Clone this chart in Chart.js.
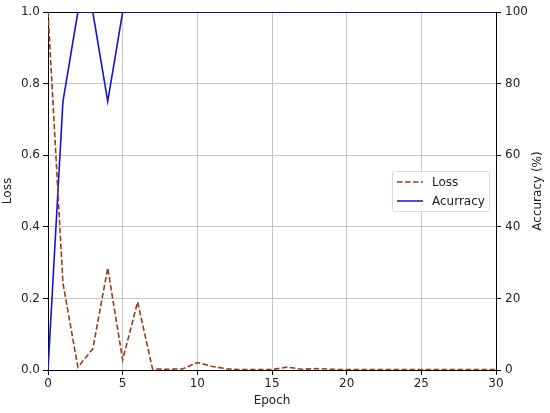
<!DOCTYPE html>
<html>
<head>
<meta charset="utf-8">
<script src="https://cdn.jsdelivr.net/npm/chart.js@4.4.1/dist/chart.umd.min.js"></script>
<style>
  body { margin: 0; background: #fff; }
  #wrap { position: relative; width: 550px; height: 413px; }
  #legend {
    position: absolute; left: 392px; top: 171px; width: 96px; height: 39px;
    border: 1px solid #d9d9d9; border-radius: 3px; background: rgba(255,255,255,0.85);
    font: 12px "DejaVu Sans", sans-serif; color: #222;
  }
  .row { position: absolute; left: 0; height: 18px; line-height: 18px; }
  .row svg { position: absolute; left: 4px; top: 4px; }
  .row span { position: absolute; left: 39px; white-space: nowrap; }
</style>
</head>
<body>
<div id="wrap">
  <canvas id="chart" width="550" height="413"></canvas>
  <div id="legend">
    <div class="row" style="top:1px">
      <svg width="28" height="10"><line x1="0" y1="5" x2="26" y2="5" stroke="#993d14" stroke-width="1.5" stroke-dasharray="5.5,2.5"/></svg>
      <span>Loss</span>
    </div>
    <div class="row" style="top:20px">
      <svg width="28" height="10"><line x1="0" y1="5" x2="26" y2="5" stroke="#1515d0" stroke-width="1.5"/></svg>
      <span>Acurracy</span>
    </div>
  </div>
</div>
<script>
// epochs 0..30
const epochs = [0,1,2,3,4,5,6,7,8,9,10,11,12,13,14,15,16,17,18,19,20,21,22,23,24,25,26,27,28,29,30];
const lossValues = [1.0,0.243,0.008,0.059,0.285,0.028,0.19,0.003,0.002,0.003,0.021,0.01,0.003,0.001,0.001,0.001,0.008,0.002,0.004,0.002,0.001,0.001,0.001,0.001,0.001,0.001,0.001,0.001,0.001,0.001,0.001];
const accuracyValues = [0,75,100,100,75,100,100,100,100,100,100,100,100,100,100,100,100,100,100,100,100,100,100,100,100,100,100,100,100,100,100];
const xTicks = [0,5,10,15,20,25,30];
const rightTitle = "Accuracy (%)";

const font = { family: "DejaVu Sans", size: 12 };

// top spine + right axis title read bottom-to-top like matplotlib
const frame = {
  id: "frame",
  beforeDatasetsDraw(chart) {
    const { ctx, chartArea: a } = chart;
    ctx.save();
    ctx.strokeStyle = "#000";
    ctx.lineWidth = 1;
    ctx.beginPath();
    ctx.moveTo(a.left, a.top + 0.5);
    ctx.lineTo(a.right, a.top + 0.5);
    ctx.stroke();
    ctx.restore();
  },
  afterDraw(chart) {
    const { ctx, chartArea: a } = chart;
    const s = chart.scales.y1;
    ctx.save();
    ctx.translate(s.right - 12, (a.top + a.bottom) / 2);
    ctx.rotate(-Math.PI / 2);
    ctx.font = '12px "DejaVu Sans"';
    ctx.fillStyle = "#222";
    ctx.textAlign = "center";
    ctx.textBaseline = "middle";
    ctx.fillText(rightTitle, 0, 0);
    ctx.restore();
  }
};

new Chart(document.getElementById("chart").getContext("2d"), {
  type: "line",
  data: {
    datasets: [
      {
        label: "Loss",
        data: epochs.map((e, i) => ({ x: e, y: lossValues[i] })),
        yAxisID: "y",
        borderColor: "#993d14",
        borderWidth: 1.6,
        borderDash: [5.5, 2.5],
        pointRadius: 0,
        tension: 0,
        fill: false
      },
      {
        label: "Acurracy",
        data: epochs.map((e, i) => ({ x: e, y: accuracyValues[i] })),
        yAxisID: "y1",
        borderColor: "#1515d0",
        borderWidth: 1.6,
        pointRadius: 0,
        tension: 0,
        fill: false
      }
    ]
  },
  options: {
    responsive: false,
    animation: false,
    devicePixelRatio: 1,
    layout: { padding: { top: 12, left: 0, right: 0, bottom: 0 } },
    plugins: { legend: { display: false }, tooltip: { enabled: false } },
    scales: {
      x: {
        type: "linear", min: 0, max: 30,
        afterBuildTicks: s => { s.ticks = xTicks.map(v => ({ value: v })); },
        ticks: { font, color: "#222", padding: 2, maxRotation: 0 },
        grid: { color: "#c4c4c4", tickColor: "#000", tickLength: 5, lineWidth: 1 },
        border: { color: "#000", width: 1 },
        title: { display: true, text: "Epoch", font, color: "#222", padding: { top: 0, bottom: 5 } },
        afterFit: s => { s.height = 43; }
      },
      y: {
        position: "left", min: 0, max: 1,
        ticks: { stepSize: 0.2, font, color: "#222", padding: 3, callback: v => v.toFixed(1) },
        grid: { color: "#c4c4c4", tickColor: "#000", tickLength: 5, lineWidth: 1 },
        border: { color: "#000", width: 1 },
        title: { display: true, text: "Loss", font, color: "#222", padding: { top: 1, bottom: 0 } },
        afterFit: s => { s.width = 48; }
      },
      y1: {
        position: "right", min: 0, max: 100,
        ticks: { stepSize: 20, font, color: "#222", padding: 4 },
        grid: { drawOnChartArea: false, tickColor: "#000", tickLength: 5 },
        border: { color: "#000", width: 1 },
        title: { display: false },
        afterFit: s => { s.width = 54; }
      }
    }
  },
  plugins: [frame]
});
</script>
</body>
</html>
